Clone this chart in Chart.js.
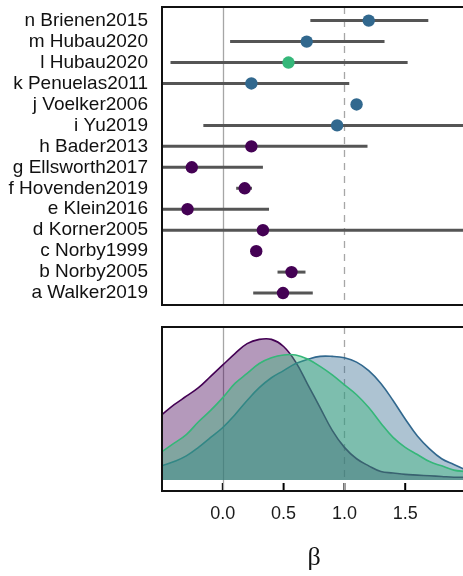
<!DOCTYPE html>
<html>
<head>
<meta charset="utf-8">
<script src="https://cdn.jsdelivr.net/npm/chart.js@4.4.1/dist/chart.umd.min.js"></script>
<style>
  html, body { margin: 0; padding: 0; background: #fff; overflow: hidden; }
  #wrap { position: relative; width: 466px; height: 576px; }
  #forest { position: absolute; left: 0; top: 0; }
  #density { position: absolute; left: 0; top: 312px; }
</style>
</head>
<body>
<div id="wrap">
  <canvas id="forest" width="466" height="312"></canvas>
  <canvas id="density" width="466" height="264"></canvas>
</div>
<script>
// studies, bottom row first
const studies = [
  'a Walker2019', 'b Norby2005', 'c Norby1999', 'd Korner2005', 'e Klein2016',
  'f Hovenden2019', 'g Ellsworth2017', 'h Bader2013', 'i Yu2019', 'j Voelker2006',
  'k Penuelas2011', 'l Hubau2020', 'm Hubau2020', 'n Brienen2015'
];
const betaMean = [0.495, 0.565, 0.275, 0.33, -0.29, 0.18, -0.255, 0.235, 0.94, 1.10, 0.235, 0.54, 0.69, 1.20];
const betaLow  = [0.25, 0.45, null, -0.7, -0.7, 0.11, -0.7, -0.7, -0.16, null, -0.7, -0.43, 0.06, 0.72];
const betaHigh = [0.74, 0.68, null, 2.3, 0.38, 0.24, 0.33, 1.19, 2.3, null, 1.04, 1.52, 1.33, 1.69];
const studyGroup = ['tree', 'tree', 'tree', 'tree', 'tree', 'tree', 'tree', 'tree',
  'forest', 'forest', 'forest', 'global', 'forest', 'forest'];

// density of beta for each group
const densX = [-0.5, -0.4, -0.3, -0.2, -0.1, 0.0, 0.1, 0.2, 0.3, 0.4, 0.5, 0.6, 0.7,
  0.8, 0.9, 1.0, 1.1, 1.2, 1.3, 1.4, 1.5, 1.6, 1.7, 1.8, 1.9, 2.0];
const densTree   = [0.46, 0.53, 0.59, 0.65, 0.73, 0.81, 0.89, 0.96, 0.99, 0.99, 0.94, 0.83, 0.67,
  0.51, 0.35, 0.23, 0.15, 0.10, 0.06, 0.05, 0.04, 0.035, 0.03, 0.025, 0.02, 0.02];
const densForest = [0.10, 0.13, 0.17, 0.23, 0.30, 0.37, 0.46, 0.56, 0.65, 0.72, 0.77, 0.82, 0.85,
  0.87, 0.87, 0.86, 0.83, 0.77, 0.68, 0.56, 0.43, 0.31, 0.22, 0.15, 0.11, 0.07];
const densGlobal = [0.20, 0.26, 0.32, 0.41, 0.49, 0.58, 0.68, 0.75, 0.82, 0.86, 0.88, 0.88, 0.85,
  0.80, 0.74, 0.67, 0.60, 0.51, 0.40, 0.30, 0.23, 0.18, 0.13, 0.10, 0.07, 0.06];

const xTicks = [0.0, 0.5, 1.0, 1.5];
const xMin = -0.5, xMax = 2.0;

const groupColor = { tree: '#440154', forest: '#31688E', global: '#35B779' };
const groupFill = {
  tree: 'rgba(68,1,84,0.4)',
  forest: 'rgba(49,104,142,0.4)',
  global: 'rgba(53,183,121,0.4)'
};

Chart.defaults.font.family = "'Liberation Sans', Arial, sans-serif";
Chart.defaults.color = '#1a1a1a';

// box, reference lines at 0 and 1, inward ticks
const panelFrame = {
  id: 'panelFrame',
  beforeDatasetsDraw(chart, args, opts) {
    const { ctx, chartArea: a, scales: { x } } = chart;
    ctx.save();
    if (opts.innerTicks) {
      ctx.strokeStyle = '#000';
      ctx.lineWidth = 2;
      x.ticks.forEach(t => {
        const px = x.getPixelForValue(t.value);
        ctx.beginPath();
        ctx.moveTo(px, a.bottom);
        ctx.lineTo(px, a.bottom - 8);
        ctx.stroke();
      });
    }
    ctx.strokeStyle = '#a6a6a6';
    ctx.lineWidth = 1.3;
    let px = Math.round(x.getPixelForValue(0)) + 0.5;
    ctx.beginPath();
    ctx.moveTo(px, a.top);
    ctx.lineTo(px, a.bottom);
    ctx.stroke();
    px = Math.round(x.getPixelForValue(1)) + 0.5;
    ctx.setLineDash([7, 6]);
    ctx.beginPath();
    ctx.moveTo(px, a.top);
    ctx.lineTo(px, a.bottom);
    ctx.stroke();
    ctx.restore();
  },
  afterDatasetsDraw(chart) {
    const { ctx, chartArea: a } = chart;
    ctx.save();
    ctx.strokeStyle = '#111';
    ctx.lineWidth = 2;
    ctx.strokeRect(a.left, a.top, a.right - a.left, a.bottom - a.top);
    ctx.restore();
  }
};

// forest plot
const intervalSets = [];
studies.forEach((s, i) => {
  if (betaLow[i] === null) return;
  intervalSets.push({
    type: 'line',
    data: [{ x: betaLow[i], y: i + 1 }, { x: betaHigh[i], y: i + 1 }],
    borderColor: '#555555',
    borderWidth: 3,
    pointRadius: 0,
    clip: 0,
    order: 1
  });
});

new Chart(document.getElementById('forest'), {
  type: 'scatter',
  data: {
    datasets: [
      {
        data: betaMean.map((v, i) => ({ x: v, y: i + 1 })),
        pointBackgroundColor: studyGroup.map(g => groupColor[g]),
        pointBorderWidth: 0,
        pointRadius: 6.2,
        order: 0
      },
      ...intervalSets
    ]
  },
  options: {
    responsive: false,
    animation: false,
    layout: { autoPadding: false, padding: { top: 7, bottom: 7, left: 0, right: 0 } },
    plugins: { legend: { display: false }, tooltip: { enabled: false }, panelFrame: {} },
    scales: {
      x: { type: 'linear', min: xMin, max: xMax, display: false },
      y: {
        type: 'linear',
        min: 0.43,
        max: 14.65,
        grid: { display: false, drawTicks: false },
        border: { display: false },
        afterBuildTicks: scale => { scale.ticks = studies.map((s, i) => ({ value: i + 1 })); },
        afterFit: scale => {
          scale.width = 162;
          scale.paddingTop = 0;
          scale.paddingBottom = 0;
        },
        ticks: {
          autoSkip: false,
          padding: 14,
          color: '#111',
          font: { size: 19 },
          callback: v => studies[v - 1]
        }
      }
    }
  },
  plugins: [panelFrame]
});

// densities, green on top, purple underneath
const densSets = [
  { key: 'global', values: densGlobal, order: 1 },
  { key: 'forest', values: densForest, order: 2 },
  { key: 'tree', values: densTree, order: 3 }
].map(d => ({
  type: 'line',
  data: densX.map((x, i) => ({ x: x, y: d.values[i] })),
  borderColor: groupColor[d.key],
  backgroundColor: groupFill[d.key],
  borderWidth: 1.6,
  fill: 'origin',
  pointRadius: 0,
  tension: 0.4,
  order: d.order
}));

new Chart(document.getElementById('density'), {
  type: 'line',
  data: { datasets: densSets },
  options: {
    responsive: false,
    animation: false,
    layout: { autoPadding: false, padding: { top: 15, bottom: 0, left: 162, right: 0 } },
    plugins: { legend: { display: false }, tooltip: { enabled: false }, panelFrame: { innerTicks: true } },
    scales: {
      x: {
        type: 'linear',
        min: xMin,
        max: xMax,
        grid: { display: false, drawTicks: false },
        border: { display: false },
        afterBuildTicks: scale => { scale.ticks = xTicks.map(v => ({ value: v })); },
        afterFit: scale => { scale.height = 85; },
        ticks: {
          padding: 12,
          color: '#1a1a1a',
          font: { size: 18 },
          callback: v => v.toFixed(1)
        },
        title: {
          display: true,
          text: 'β',
          color: '#111',
          font: { family: "'Liberation Serif', 'DejaVu Serif', serif", size: 26 },
          padding: { top: 0, bottom: 2 }
        }
      },
      y: { type: 'linear', min: -0.077, max: 1.077, display: false }
    }
  },
  plugins: [panelFrame]
});
</script>
</body>
</html>
